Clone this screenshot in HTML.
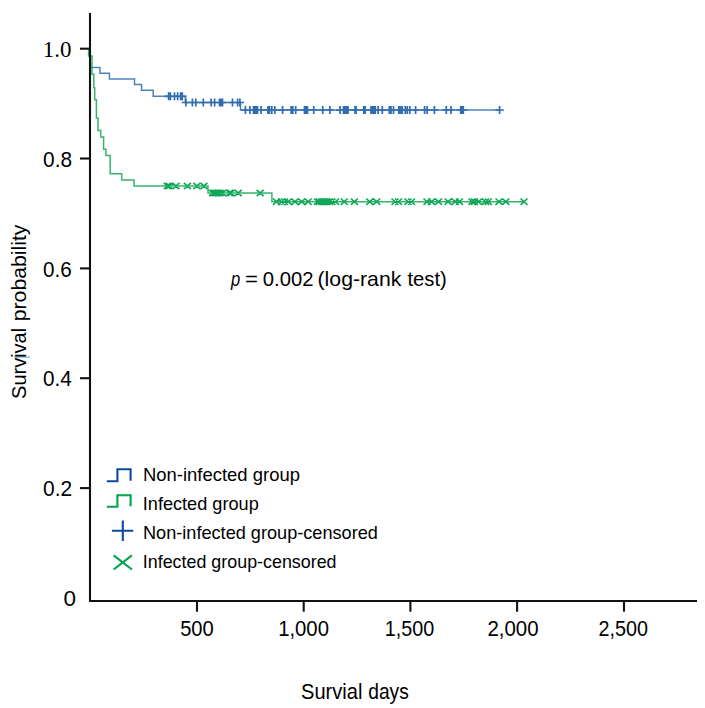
<!DOCTYPE html>
<html><head><meta charset="utf-8"><style>
html,body{margin:0;padding:0;background:#fff;}
svg{display:block;}
</style></head><body>
<svg width="705" height="708" viewBox="0 0 705 708">
<rect width="705" height="708" fill="#fff"/>
<g>
<path d="M90,48.7 V67.6 H99.9 V73.3 H109.4 V79.0 H134.5 V84.5 H141.5 V90.3 H153.2 V96.3 H185.3 V102.5 H240.5 V110 H499.6" stroke="#306cb0" stroke-width="1.5" stroke-opacity="0.85" fill="none"/>
<path d="M164.4,96.3 h8.4 M168.6,92.3 v8.0 M166.2,96.3 h8.4 M170.4,92.3 v8.0 M170.3,96.3 h8.4 M174.5,92.3 v8.0 M173.4,96.3 h8.4 M177.6,92.3 v8.0 M176.4,96.3 h8.4 M180.6,92.3 v8.0 M178.1,96.3 h8.4 M182.3,92.3 v8.0 M181.7,102.5 h8.4 M185.9,98.5 v8.0 M188.2,102.5 h8.4 M192.4,98.5 v8.0 M191.6,102.5 h8.4 M195.8,98.5 v8.0 M199.1,102.5 h8.4 M203.3,98.5 v8.0 M207.0,102.5 h8.4 M211.2,98.5 v8.0 M210.4,102.5 h8.4 M214.6,98.5 v8.0 M215.3,102.5 h8.4 M219.5,98.5 v8.0 M216.8,102.5 h8.4 M221,98.5 v8.0 M218.3,102.5 h8.4 M222.5,98.5 v8.0 M228.3,102.5 h8.4 M232.5,98.5 v8.0 M233.4,102.5 h8.4 M237.6,98.5 v8.0 M235.7,102.5 h8.4 M239.9,98.5 v8.0 M241.2,110.0 h8.4 M245.4,106.0 v8.0 M245.7,110.0 h8.4 M249.9,106.0 v8.0 M249.3,110.0 h8.4 M253.5,106.0 v8.0 M250.3,110.0 h8.4 M254.5,106.0 v8.0 M251.3,110.0 h8.4 M255.5,106.0 v8.0 M252.3,110.0 h8.4 M256.5,106.0 v8.0 M253.3,110.0 h8.4 M257.5,106.0 v8.0 M256.9,110.0 h8.4 M261.1,106.0 v8.0 M263.8,110.0 h8.4 M268,106.0 v8.0 M265.3,110.0 h8.4 M269.5,106.0 v8.0 M267.6,110.0 h8.4 M271.8,106.0 v8.0 M270.6,110.0 h8.4 M274.8,106.0 v8.0 M278.4,110.0 h8.4 M282.6,106.0 v8.0 M287.0,110.0 h8.4 M291.2,106.0 v8.0 M288.6,110.0 h8.4 M292.8,106.0 v8.0 M291.5,110.0 h8.4 M295.7,106.0 v8.0 M300.3,110.0 h8.4 M304.5,106.0 v8.0 M301.8,110.0 h8.4 M306,106.0 v8.0 M303.3,110.0 h8.4 M307.5,106.0 v8.0 M309.5,110.0 h8.4 M313.7,106.0 v8.0 M318.5,110.0 h8.4 M322.7,106.0 v8.0 M325.7,110.0 h8.4 M329.9,106.0 v8.0 M335.9,110.0 h8.4 M340.1,106.0 v8.0 M339.3,110.0 h8.4 M343.5,106.0 v8.0 M340.8,110.0 h8.4 M345,106.0 v8.0 M342.3,110.0 h8.4 M346.5,106.0 v8.0 M343.8,110.0 h8.4 M348,106.0 v8.0 M350.8,110.0 h8.4 M355,106.0 v8.0 M351.8,110.0 h8.4 M356,106.0 v8.0 M359.6,110.0 h8.4 M363.8,106.0 v8.0 M361.0,110.0 h8.4 M365.2,106.0 v8.0 M366.8,110.0 h8.4 M371,106.0 v8.0 M368.3,110.0 h8.4 M372.5,106.0 v8.0 M369.8,110.0 h8.4 M374,106.0 v8.0 M371.1,110.0 h8.4 M375.3,106.0 v8.0 M373.9,110.0 h8.4 M378.1,106.0 v8.0 M378.1,110.0 h8.4 M382.3,106.0 v8.0 M385.1,110.0 h8.4 M389.3,106.0 v8.0 M386.8,110.0 h8.4 M391,106.0 v8.0 M389.3,110.0 h8.4 M393.5,106.0 v8.0 M394.6,110.0 h8.4 M398.8,106.0 v8.0 M396.3,110.0 h8.4 M400.5,106.0 v8.0 M398.1,110.0 h8.4 M402.3,106.0 v8.0 M401.1,110.0 h8.4 M405.3,106.0 v8.0 M403.1,110.0 h8.4 M407.3,106.0 v8.0 M405.6,110.0 h8.4 M409.8,106.0 v8.0 M411.4,110.0 h8.4 M415.6,106.0 v8.0 M420.4,110.0 h8.4 M424.6,106.0 v8.0 M422.9,110.0 h8.4 M427.1,106.0 v8.0 M430.2,110.0 h8.4 M434.4,106.0 v8.0 M442.1,110.0 h8.4 M446.3,106.0 v8.0 M446.8,110.0 h8.4 M451,106.0 v8.0 M456.5,110.0 h8.4 M460.7,106.0 v8.0 M457.8,110.0 h8.4 M462,106.0 v8.0 M459.1,110.0 h8.4 M463.3,106.0 v8.0 M495.4,110.0 h8.4 M499.6,106.0 v8.0" stroke="#306cb0" stroke-width="1.7" fill="none"/>
<path d="M88.6,49.5 V56 H92 V74.2 H93.8 V87.7 H94.7 V99.8 H96.4 V118.1 H98 V130.6 H100.8 V136.9 H103.6 V149.3 H105.9 V155.5 H110.2 V173.8 H121.7 V179.9 H134 V186.0 H208 V193.0 H271.9 V201.7 H524" stroke="#10a858" stroke-width="1.5" stroke-opacity="0.85" fill="none"/>
<path d="M163.8,182.8 l7.0,6.4 M163.8,189.2 l7.0,-6.4 M165.7,182.8 l7.0,6.4 M165.7,189.2 l7.0,-6.4 M172.5,182.8 l7.0,6.4 M172.5,189.2 l7.0,-6.4 M183.9,182.8 l7.0,6.4 M183.9,189.2 l7.0,-6.4 M193.4,182.8 l7.0,6.4 M193.4,189.2 l7.0,-6.4 M200.4,182.8 l7.0,6.4 M200.4,189.2 l7.0,-6.4 M209.0,189.8 l7.0,6.4 M209.0,196.2 l7.0,-6.4 M210.5,189.8 l7.0,6.4 M210.5,196.2 l7.0,-6.4 M212.0,189.8 l7.0,6.4 M212.0,196.2 l7.0,-6.4 M213.5,189.8 l7.0,6.4 M213.5,196.2 l7.0,-6.4 M215.0,189.8 l7.0,6.4 M215.0,196.2 l7.0,-6.4 M216.5,189.8 l7.0,6.4 M216.5,196.2 l7.0,-6.4 M219.0,189.8 l7.0,6.4 M219.0,196.2 l7.0,-6.4 M226.0,189.8 l7.0,6.4 M226.0,196.2 l7.0,-6.4 M227.5,189.8 l7.0,6.4 M227.5,196.2 l7.0,-6.4 M234.7,189.8 l7.0,6.4 M234.7,196.2 l7.0,-6.4 M256.7,189.8 l7.0,6.4 M256.7,196.2 l7.0,-6.4 M273.0,198.5 l7.0,6.4 M273.0,204.9 l7.0,-6.4 M278.0,198.5 l7.0,6.4 M278.0,204.9 l7.0,-6.4 M281.0,198.5 l7.0,6.4 M281.0,204.9 l7.0,-6.4 M284.7,198.5 l7.0,6.4 M284.7,204.9 l7.0,-6.4 M291.5,198.5 l7.0,6.4 M291.5,204.9 l7.0,-6.4 M298.2,198.5 l7.0,6.4 M298.2,204.9 l7.0,-6.4 M304.7,198.5 l7.0,6.4 M304.7,204.9 l7.0,-6.4 M314.0,198.5 l7.0,6.4 M314.0,204.9 l7.0,-6.4 M316.0,198.5 l7.0,6.4 M316.0,204.9 l7.0,-6.4 M318.5,198.5 l7.0,6.4 M318.5,204.9 l7.0,-6.4 M321.0,198.5 l7.0,6.4 M321.0,204.9 l7.0,-6.4 M323.5,198.5 l7.0,6.4 M323.5,204.9 l7.0,-6.4 M326.0,198.5 l7.0,6.4 M326.0,204.9 l7.0,-6.4 M328.5,198.5 l7.0,6.4 M328.5,204.9 l7.0,-6.4 M332.0,198.5 l7.0,6.4 M332.0,204.9 l7.0,-6.4 M340.7,198.5 l7.0,6.4 M340.7,204.9 l7.0,-6.4 M350.9,198.5 l7.0,6.4 M350.9,204.9 l7.0,-6.4 M366.2,198.5 l7.0,6.4 M366.2,204.9 l7.0,-6.4 M373.2,198.5 l7.0,6.4 M373.2,204.9 l7.0,-6.4 M391.5,198.5 l7.0,6.4 M391.5,204.9 l7.0,-6.4 M395.0,198.5 l7.0,6.4 M395.0,204.9 l7.0,-6.4 M404.5,198.5 l7.0,6.4 M404.5,204.9 l7.0,-6.4 M408.0,198.5 l7.0,6.4 M408.0,204.9 l7.0,-6.4 M423.5,198.5 l7.0,6.4 M423.5,204.9 l7.0,-6.4 M428.0,198.5 l7.0,6.4 M428.0,204.9 l7.0,-6.4 M435.0,198.5 l7.0,6.4 M435.0,204.9 l7.0,-6.4 M444.6,198.5 l7.0,6.4 M444.6,204.9 l7.0,-6.4 M451.6,198.5 l7.0,6.4 M451.6,204.9 l7.0,-6.4 M455.9,198.5 l7.0,6.4 M455.9,204.9 l7.0,-6.4 M468.5,198.5 l7.0,6.4 M468.5,204.9 l7.0,-6.4 M471.0,198.5 l7.0,6.4 M471.0,204.9 l7.0,-6.4 M475.0,198.5 l7.0,6.4 M475.0,204.9 l7.0,-6.4 M482.0,198.5 l7.0,6.4 M482.0,204.9 l7.0,-6.4 M484.8,198.5 l7.0,6.4 M484.8,204.9 l7.0,-6.4 M495.5,198.5 l7.0,6.4 M495.5,204.9 l7.0,-6.4 M502.3,198.5 l7.0,6.4 M502.3,204.9 l7.0,-6.4 M520.5,198.5 l7.0,6.4 M520.5,204.9 l7.0,-6.4" stroke="#10a858" stroke-width="1.6" fill="none"/>
</g>
<g stroke="#141010" stroke-width="2.1" fill="none">
<line x1="90" y1="13" x2="90" y2="601.8"/>
<line x1="89" y1="600.95" x2="697" y2="600.95"/>
<line x1="80" y1="48.7" x2="90" y2="48.7"/><line x1="80" y1="158.5" x2="90" y2="158.5"/><line x1="80" y1="268.4" x2="90" y2="268.4"/><line x1="80" y1="378.2" x2="90" y2="378.2"/><line x1="80" y1="488.1" x2="90" y2="488.1"/>
<line x1="197" y1="601" x2="197" y2="611.7"/><line x1="303.7" y1="601" x2="303.7" y2="611.7"/><line x1="410.4" y1="601" x2="410.4" y2="611.7"/><line x1="517.1" y1="601" x2="517.1" y2="611.7"/><line x1="624" y1="601" x2="624" y2="611.7"/>
</g>
<rect x="14" y="356.2" width="16" height="1.8" fill="#a2c6d8"/>
<g fill="#000">
<text x="42.85" y="57.0" font-family="Liberation Serif" font-size="22.4" textLength="28.75" lengthAdjust="spacingAndGlyphs">1.0</text><text x="43.05" y="167.0" font-family="Liberation Sans" font-size="21.5" textLength="29.01" lengthAdjust="spacingAndGlyphs">0.8</text><text x="43.06" y="277.0" font-family="Liberation Sans" font-size="21.5" textLength="28.69" lengthAdjust="spacingAndGlyphs">0.6</text><text x="43.06" y="386.0" font-family="Liberation Sans" font-size="21.5" textLength="28.76" lengthAdjust="spacingAndGlyphs">0.4</text><text x="43.05" y="496.0" font-family="Liberation Sans" font-size="21.5" textLength="29.14" lengthAdjust="spacingAndGlyphs">0.2</text><text x="63.59" y="606.0" font-family="Liberation Sans" font-size="21.5" textLength="12.48" lengthAdjust="spacingAndGlyphs">0</text><text x="180.17" y="636.0" font-family="Liberation Sans" font-size="21.3" textLength="33.57" lengthAdjust="spacingAndGlyphs">500</text><text x="278.15" y="636.0" font-family="Liberation Sans" font-size="21.3" textLength="50.81" lengthAdjust="spacingAndGlyphs">1,000</text><text x="384.69" y="636.0" font-family="Liberation Sans" font-size="21.3" textLength="49.45" lengthAdjust="spacingAndGlyphs">1,500</text><text x="487.42" y="636.0" font-family="Liberation Sans" font-size="21.3" textLength="51.15" lengthAdjust="spacingAndGlyphs">2,000</text><text x="598.46" y="636.0" font-family="Liberation Sans" font-size="21.3" textLength="49.49" lengthAdjust="spacingAndGlyphs">2,500</text><text x="301.08" y="698.9" font-family="Liberation Sans" font-size="21.8" textLength="61.31" lengthAdjust="spacingAndGlyphs">Survial</text><text x="368.23" y="698.9" font-family="Liberation Sans" font-size="21.8" textLength="40.57" lengthAdjust="spacingAndGlyphs">days</text><text x="231.10" y="286.0" font-family="Liberation Sans" font-style="italic" font-size="21" textLength="9.24" lengthAdjust="spacingAndGlyphs">p</text><text x="244.95" y="286.0" font-family="Liberation Sans" font-size="21" textLength="12.92" lengthAdjust="spacingAndGlyphs">=</text><text x="262.76" y="286.0" font-family="Liberation Sans" font-size="21" textLength="50.66" lengthAdjust="spacingAndGlyphs">0.002</text><text x="317.54" y="286.0" font-family="Liberation Sans" font-size="21" textLength="83.85" lengthAdjust="spacingAndGlyphs">(log-rank</text><text x="407.44" y="286.0" font-family="Liberation Sans" font-size="21" textLength="39.35" lengthAdjust="spacingAndGlyphs">test)</text><text x="143.00" y="480.9" font-family="Liberation Sans" font-size="18.4" textLength="156.94" lengthAdjust="spacingAndGlyphs">Non-infected group</text><text x="142.77" y="509.9" font-family="Liberation Sans" font-size="18.4" textLength="115.97" lengthAdjust="spacingAndGlyphs">Infected group</text><text x="143.02" y="538.8" font-family="Liberation Sans" font-size="18.4" textLength="234.84" lengthAdjust="spacingAndGlyphs">Non-infected group-censored</text><text x="142.80" y="567.8" font-family="Liberation Sans" font-size="18.4" textLength="193.76" lengthAdjust="spacingAndGlyphs">Infected group-censored</text><text transform="rotate(-90)" x="-398.88" y="26.0" font-family="Liberation Sans" font-size="20.3" textLength="70.98" lengthAdjust="spacingAndGlyphs">Survival</text><text transform="rotate(-90)" x="-321.24" y="26.0" font-family="Liberation Sans" font-size="20.3" textLength="96.65" lengthAdjust="spacingAndGlyphs">probability</text>
</g>
<g fill="none" stroke-width="2.1" stroke-linecap="butt">
<path d="M106.8,481.2 H117.4 V469.2 H130.6 V480.7" stroke="#0b4ba0"/>
<path d="M106.8,506.7 H117.4 V495.2 H130.6 V506.3" stroke="#00a54b"/>
<path d="M111.9,530.7 H133.2 M122.8,520.5 V541" stroke="#0b4ba0"/>
<path d="M113.6,555.4 L131.9,569.5 M113.6,569.5 L131.9,555.4" stroke="#00a54b"/>
</g>
</svg>
</body></html>
